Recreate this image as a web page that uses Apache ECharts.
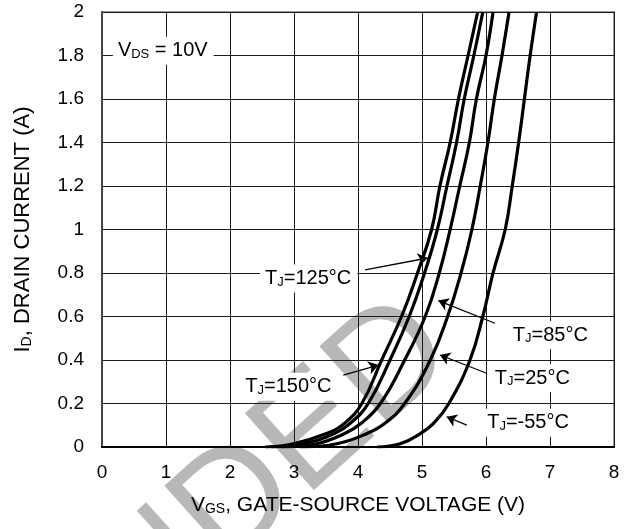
<!DOCTYPE html>
<html>
<head>
<meta charset="utf-8">
<script src="https://cdn.jsdelivr.net/npm/echarts@6/dist/echarts.min.js"></script>
<style>
  html, body { margin: 0; padding: 0; background: #fff; }
  #chart { width: 635px; height: 529px; }
</style>
</head>
<body>
<div id="chart"></div>
<script>
// Drain current levels (A) at which each transfer curve is sampled
const drainCurrent = [0, 0.015, 0.063, 0.109, 0.2, 0.4, 0.6, 0.8, 1.0, 1.2, 1.4, 1.6, 1.8, 2.0];

// Gate-source voltage (V) needed for each current level, per junction temperature
const vgsTj150 = [2.55, 2.99, 3.52, 3.79, 4.06, 4.37, 4.68, 4.93, 5.15, 5.28, 5.44, 5.57, 5.72, 5.87];
const vgsTj125 = [2.65, 3.15, 3.64, 3.88, 4.16, 4.50, 4.80, 5.04, 5.24, 5.39, 5.54, 5.66, 5.81, 5.95];
const vgsTj85  = [2.80, 3.35, 3.80, 4.05, 4.35, 4.73, 5.05, 5.27, 5.44, 5.59, 5.74, 5.85, 6.00, 6.11];
const vgsTj25  = [3.10, 3.67, 4.15, 4.42, 4.73, 5.13, 5.40, 5.61, 5.78, 5.91, 6.03, 6.13, 6.25, 6.36];
const vgsTjM55 = [4.30, 4.66, 4.98, 5.18, 5.42, 5.75, 5.95, 6.11, 6.30, 6.41, 6.51, 6.60, 6.69, 6.79];

const curveNames = ['TJ=150', 'TJ=125', 'TJ=85', 'TJ=25', 'TJ=-55'];
const curveVgs = [vgsTj150, vgsTj125, vgsTj85, vgsTj25, vgsTjM55];

// Axis ranges and tick spacing
const xRange = [0, 8], xStep = 1;
const yRange = [0, 2], yStep = 0.2;

// Callout texts, their anchor (left edge, middle) and leader arrows, in data units
const calloutText = [
  'V{sub|DS} = 10V',
  'T{sub|J}=125°C',
  'T{sub|J}=150°C',
  'T{sub|J}=85°C',
  'T{sub|J}=25°C',
  'T{sub|J}=-55°C'
];
const calloutAnchor = [[0.17, 1.822], [2.47, 0.775], [2.16, 0.277], [6.34, 0.515], [6.06, 0.317], [5.94, 0.112]];
const arrowFrom = [[4.11, 0.814], [3.77, 0.331], [6.14, 0.569], [6.01, 0.339], [5.70, 0.101]];
const arrowTo   = [[5.09, 0.869], [4.32, 0.377], [5.255, 0.673], [5.28, 0.423], [5.385, 0.139]];

const FONT = 'Liberation Sans, Arial, Helvetica, sans-serif';
const subStyle = (size, drop) => ({ fontSize: size, fontFamily: FONT, color: '#000', verticalAlign: 'bottom', padding: [drop, 0, 0, 0] });

const chart = echarts.init(document.getElementById('chart'), null, { renderer: 'canvas' });

const curveSeries = curveVgs.map((v, k) => ({
  name: curveNames[k],
  type: 'line',
  data: drainCurrent.map((i, n) => [v[n], i]),
  smooth: 0.45,
  showSymbol: false,
  symbol: 'none',
  lineStyle: { color: '#000', width: 3.2 },
  z: 5,
  clip: true
}));

const option = {
  animation: false,
  backgroundColor: '#fff',
  textStyle: { fontFamily: FONT },
  grid: {
    left: 102, right: 21, top: 12, bottom: 82,
    show: true, borderColor: '#9a9a9a', borderWidth: 2, backgroundColor: 'transparent'
  },
  graphic: [{
    type: 'text',
    x: 432, y: 328,
    rotation: 42 * Math.PI / 180,
    silent: true,
    z: -10,
    style: {
      text: 'NOT RECOMMENDED',
      fontSize: 150,
      fontFamily: FONT,
      fill: '#b8b8b8',
      align: 'right',
      verticalAlign: 'middle'
    }
  }],
  xAxis: {
    type: 'value',
    min: xRange[0], max: xRange[1], interval: xStep,
    name: 'V{sub|GS}, GATE-SOURCE VOLTAGE (V)',
    nameLocation: 'middle',
    nameGap: 48,
    nameTextStyle: { fontSize: 21, color: '#000', fontFamily: FONT, rich: { sub: subStyle(14, 7) } },
    axisLine: { show: true, onZero: false, lineStyle: { color: '#000', width: 2 } },
    axisTick: { show: false },
    axisLabel: { fontSize: 19, color: '#000', margin: 16, fontFamily: FONT },
    splitLine: { show: true, lineStyle: { color: '#1a1a1a', width: 1 } }
  },
  yAxis: {
    type: 'value',
    min: yRange[0], max: yRange[1], interval: yStep,
    name: 'I{sub|D}, DRAIN CURRENT (A)',
    nameLocation: 'middle',
    nameGap: 68,
    nameTextStyle: { fontSize: 22, color: '#000', fontFamily: FONT, rich: { sub: subStyle(14, 7) } },
    axisLine: { show: true, onZero: false, lineStyle: { color: '#444', width: 2 } },
    axisTick: { show: false },
    axisLabel: { fontSize: 19, color: '#000', margin: 18, fontFamily: FONT },
    splitLine: { show: true, lineStyle: { color: '#1a1a1a', width: 1 } }
  },
  series: [
    ...curveSeries,
    {
      name: 'callouts',
      type: 'scatter',
      symbolSize: 0,
      itemStyle: { color: '#fff', opacity: 1 },
      z: 4,
      data: calloutAnchor.map((p, k) => ({ value: p, name: calloutText[k] })),
      label: {
        show: true,
        position: 'right',
        distance: 0,
        formatter: p => p.name,
        fontSize: 20,
        fontFamily: FONT,
        color: '#000',
        opacity: 1,
        backgroundColor: '#fff',
        padding: [4, 6, 4, 5],
        rich: { sub: subStyle(13, 6) }
      },
      emphasis: { disabled: true }
    },
    {
      name: 'leaders',
      type: 'lines',
      coordinateSystem: 'cartesian2d',
      z: 6,
      symbol: ['none', 'arrow'],
      symbolSize: 10,
      lineStyle: { color: '#000', width: 1.3, opacity: 1 },
      data: arrowFrom.map((a, k) => ({ coords: [a, arrowTo[k]] }))
    }
  ]
};

chart.setOption(option);
</script>
</body>
</html>
